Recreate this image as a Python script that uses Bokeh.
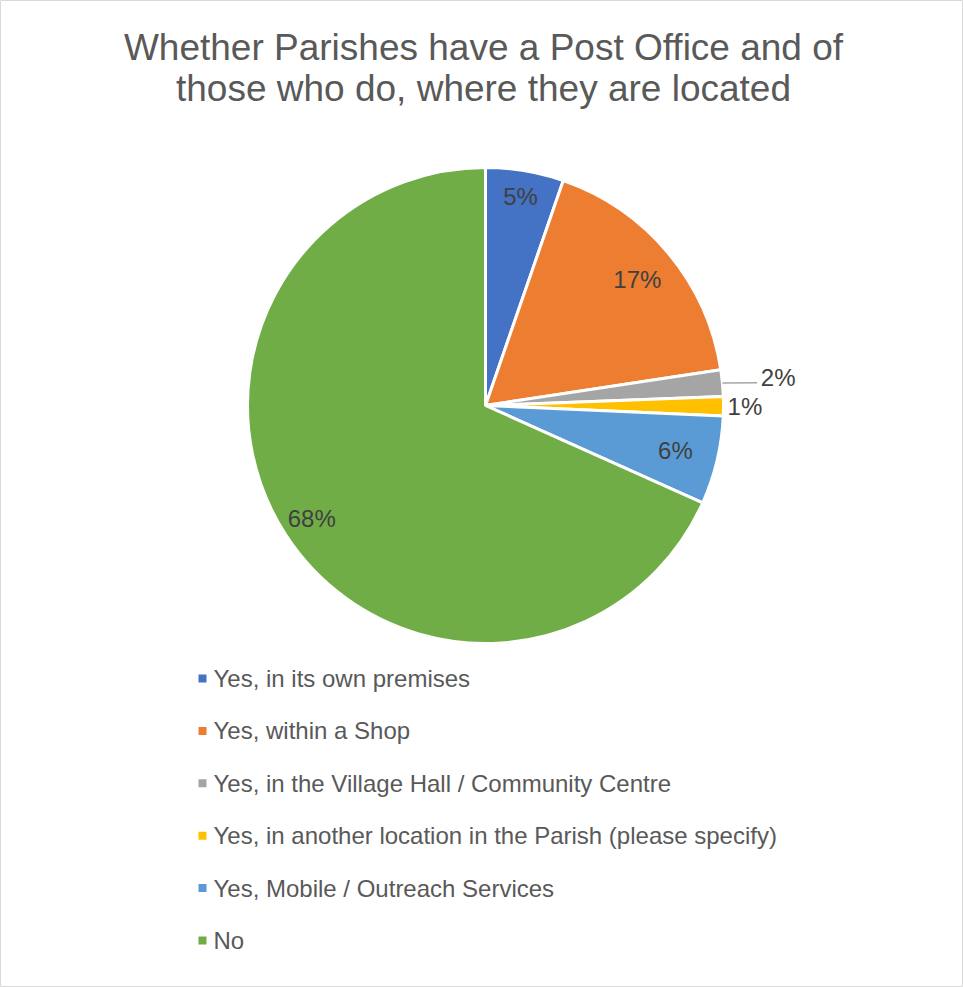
import numpy as np
from bokeh.plotting import figure
from bokeh.models import Range1d, ColumnDataSource
from bokeh.core.properties import value
from bokeh.embed import file_html
from bokeh.resources import INLINE

# ---- data ----
categories = [
    "Yes, in its own premises",
    "Yes, within a Shop",
    "Yes, in the Village Hall / Community Centre",
    "Yes, in another location in the Parish (please specify)",
    "Yes, Mobile / Outreach Services",
    "No",
]
shares = [5.3, 17.3, 1.8, 1.3, 6.0, 68.3]
colors = ["#4472C4", "#ED7D31", "#A5A5A5", "#FFC000", "#5B9BD5", "#70AD47"]
title_lines = ["Whether Parishes have a Post Office and of",
               "those who do, where they are located"]

# ---- layout ----
W, H = 963, 987
CX, CY, R = 485, 405, 238
FONT = "Liberation Sans"
label_r = [0.89, 0.83, 1.235, 1.09, 0.82, 0.87]


def fy(y):
    return H - y


p = figure(width=W, height=H, output_backend="svg", toolbar_location=None,
           x_range=Range1d(0, W), y_range=Range1d(0, H), min_border=0,
           x_axis_type=None, y_axis_type=None)
p.grid.visible = False
p.outline_line_color = "#D9D9D9"
p.outline_line_width = 1
p.background_fill_color = "white"
p.border_fill_color = "white"

vals = np.array(shares, dtype=float)
frac = vals / vals.sum()
cum = np.concatenate([[0], np.cumsum(frac)])
start = np.pi / 2 - 2 * np.pi * cum[:-1]
end = np.pi / 2 - 2 * np.pi * cum[1:]
mid = (cum[:-1] + cum[1:]) / 2 * 2 * np.pi  # clockwise from top

src = ColumnDataSource(dict(start=start, end=end, color=colors))
p.wedge(x=CX, y=fy(CY), radius=R, start_angle="start", end_angle="end",
        direction="clock", fill_color="color", line_color="white",
        line_width=3, source=src)

# data labels
pct = [f"{int(round(f * 100))}%" for f in frac]
lx = [CX + R * k * np.sin(a) for k, a in zip(label_r, mid)]
ly = [fy(CY - R * k * np.cos(a)) for k, a in zip(label_r, mid)]
p.text(x=lx, y=ly, text=pct, text_font=value(FONT), text_font_size="24px",
       text_color="#404040", text_align="center", text_baseline="middle")

# leader line for 2% slice
i = 2
x0 = CX + R * 1.0 * np.sin(mid[i])
y0 = fy(CY - R * 1.0 * np.cos(mid[i]))
p.line(x=[x0, lx[i] - 21], y=[y0, ly[i] - 5], line_color="#A6A6A6", line_width=1.5)

# title
p.text(x=[483, 483], y=[fy(47), fy(88)], text=title_lines, text_font=value(FONT),
       text_font_size="37px", text_color="#595959", text_align="center",
       text_baseline="middle")

# legend
leg_y = [fy(678 + 52.4 * k) for k in range(len(categories))]
p.scatter(x=[202] * len(categories), y=leg_y, marker="square", size=8,
          fill_color=colors, line_color=None)
p.text(x=[213] * len(categories), y=leg_y, text=categories, text_font=value(FONT),
       text_font_size="24px", text_color="#595959", text_align="left",
       text_baseline="middle")

open("out.html", "w").write(file_html(p, INLINE))
